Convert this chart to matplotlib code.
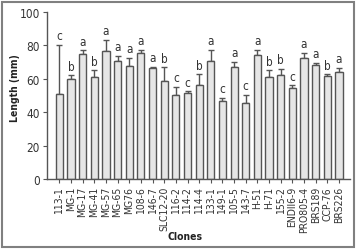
import matplotlib
matplotlib.use('Agg')
import matplotlib.pyplot as plt
from matplotlib.patches import Rectangle

clones = ['113-1', 'MG-1', 'MG-17', 'MG-41', 'MG-57', 'MG-65', 'MG76', '108-6',
          '146-7', 'SLC12-20', '116-2', '114-2', '114-4', '133-1', '149-1',
          '105-5', '143-7', 'H-51', 'H-71', '155-2', 'ENDII6-9', 'PRO805-4',
          'BRS189', 'CCP-76', 'BRS226']
length = [50.5, 60, 74.6, 61, 76.6, 70.4, 67.5, 75.2, 66, 58.3, 50.3, 51.2,
          56.3, 70.2, 46.6, 66.9, 45.6, 74, 61, 62, 54.3, 72, 67.9, 61.7, 64]
err = [29.5, 2, 2.2, 4, 6.4, 3.2, 5, 2, 0.9, 8.4, 4.8, 1.1, 6.2, 7, 1.8,
       3.1, 4.7, 3.2, 4, 3.7, 1.7, 3.4, 1.5, 0.8, 2.5]
groups = ['c', 'b', 'a', 'b', 'a', 'a', 'a', 'a', 'a', 'b', 'c', 'c', 'b',
          'a', 'c', 'a', 'c', 'a', 'b', 'b', 'c', 'a', 'a', 'b', 'a']

plt.rcParams['font.family'] = ['Liberation Sans Narrow', 'DejaVu Sans']
plt.rcParams['font.stretch'] = 'condensed'

fig = plt.figure(figsize=(3.57, 2.51), dpi=100)
ax = fig.add_axes([46.7 / 357, 1 - 180 / 251, (350 - 46.7) / 357, (180 - 12.5) / 251])

x = list(range(len(clones)))
ax.bar(x, length, width=0.62, color='#e6e6e6', edgecolor='#555555', linewidth=1.0,
       zorder=2)
ax.errorbar(x, length, yerr=[[0] * len(err), err], fmt='none', ecolor='#555555',
            elinewidth=1.0, capsize=2.5, capthick=1.0, zorder=1)
for xi, v, e, g in zip(x, length, err, groups):
    ax.text(xi, v + e + 1.5, g, ha='center', va='bottom', fontsize=8.5,
            color='#333333')

ax.set_xlim(-1.08, 24.94)
ax.set_ylim(0, 100)
ax.set_yticks([0, 20, 40, 60, 80, 100])
ax.set_xticks(x)
ax.set_xticklabels(clones, rotation=90, fontsize=7.5, color='#333333')
ax.tick_params(axis='y', labelsize=8.5, labelcolor='#333333', length=3,
               color='#555555', pad=2)
ax.tick_params(axis='x', length=3, color='#555555', pad=2)
for s in ['top', 'right']:
    ax.spines[s].set_visible(False)
for s in ['left', 'bottom']:
    ax.spines[s].set_color('#555555')
    ax.spines[s].set_linewidth(1.0)

fig.text(15 / 357, 1 - 88 / 251, 'Length (mm)', rotation=90, ha='center',
         va='center', fontsize=7.5, fontweight='bold', color='#222222')
fig.text(185 / 357, 1 - 237 / 251, 'Clones', ha='center', va='center',
         fontsize=7.5, fontweight='bold', color='#222222')

fig.patches.append(Rectangle((2 / 357, 3 / 251), 352 / 357, 245 / 251,
                             transform=fig.transFigure, fill=False,
                             edgecolor='#808080', linewidth=1.5))

fig.savefig('out.png', dpi=100)
